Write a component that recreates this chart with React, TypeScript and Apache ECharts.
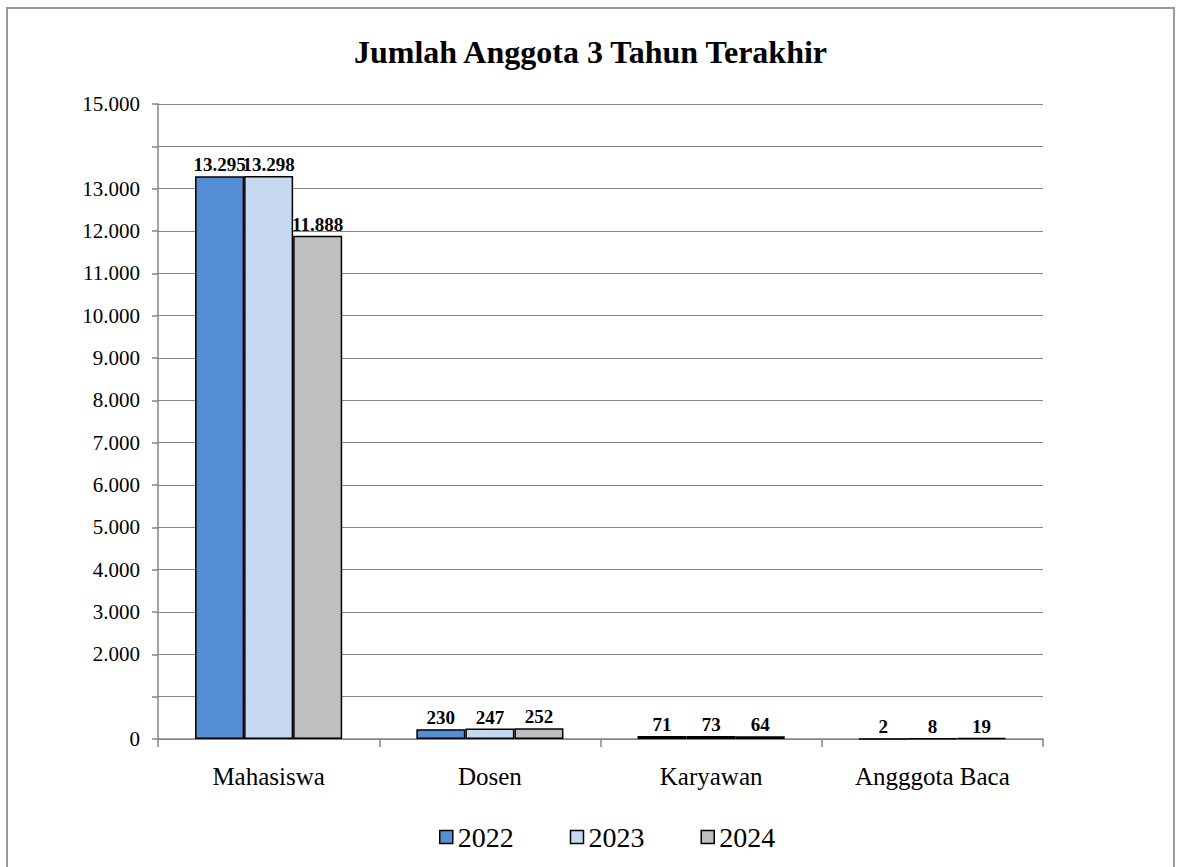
import React, { useEffect, useRef } from "react";
import * as echarts from "echarts";

const categories = ["Mahasiswa", "Dosen", "Karyawan", "Angggota Baca"];
const years = ["2022", "2023", "2024"];
const values2022 = [13295, 230, 71, 2];
const values2023 = [13298, 247, 73, 8];
const values2024 = [11888, 252, 64, 19];
const colors = ["#558ED5", "#C6D9F1", "#BFBFBF"];
const hiddenTicks = [1000, 14000];

const fmt = (v: number) => String(v).replace(/\B(?=(\d{3})+(?!\d))/g, ".");

export default function App() {
  const ref = useRef<HTMLDivElement>(null);
  useEffect(() => {
    const chart = echarts.init(ref.current!, null, { renderer: "svg" });
    const seriesData = [values2022, values2023, values2024];
    const serif = "Liberation Serif";
    chart.setOption({
      animation: false,
      backgroundColor: "#fff",
      title: {
        text: "Jumlah Anggota 3 Tahun Terakhir",
        left: "center",
        top: 31,
        textStyle: { fontFamily: serif, fontWeight: "bold", fontSize: 32, color: "#000" },
      },
      legend: {
        top: 818,
        left: 434,
        itemWidth: 13,
        itemHeight: 13,
        itemGap: 56,
        icon: "rect",
        textStyle: { fontFamily: serif, fontSize: 28, color: "#000" },
        data: years.map((y, i) => ({
          name: y,
          itemStyle: { color: colors[i], borderColor: "#000", borderWidth: 1.5 },
        })),
      },
      grid: { left: 158, top: 104, width: 885, height: 635, containLabel: false },
      xAxis: {
        type: "category",
        data: categories,
        axisLine: { lineStyle: { color: "#868686", width: 1.5 } },
        axisTick: { show: true, length: 8, lineStyle: { color: "#868686", width: 1.5 } },
        axisLabel: { fontFamily: serif, fontSize: 25, color: "#000", margin: 25 },
      },
      yAxis: {
        type: "value",
        min: 0,
        max: 15000,
        interval: 1000,
        axisLine: { show: true, lineStyle: { color: "#868686", width: 1.5 } },
        axisTick: { show: true, length: 6, lineStyle: { color: "#868686", width: 1.5 } },
        splitLine: { lineStyle: { color: "#868686", width: 1.2 } },
        axisLabel: {
          fontFamily: serif,
          fontSize: 21,
          color: "#000",
          margin: 18,
          formatter: (v: number) => (hiddenTicks.includes(v) ? "" : fmt(v)),
        },
      },
      series: years.map((y, i) => ({
        name: y,
        type: "bar",
        data: seriesData[i],
        barGap: "0%",
        barCategoryGap: "33.5%",
        itemStyle: { color: colors[i], borderColor: "#000", borderWidth: 1.5 },
        label: {
          show: true,
          position: "top",
          distance: 2,
          fontFamily: serif,
          fontWeight: "bold",
          fontSize: 19,
          color: "#000",
          formatter: (p: any) => fmt(p.value),
        },
      })),
      graphic: [
        {
          type: "rect",
          shape: { x: 7, y: 8, width: 1167, height: 900 },
          style: { fill: "none", stroke: "#9a9a9a", lineWidth: 2 },
          silent: true,
        },
      ],
    });
    return () => chart.dispose();
  }, []);
  return (
    <div
      ref={ref}
      style={{ position: "absolute", left: 0, top: 0, width: 1181, height: 867 }}
    />
  );
}
